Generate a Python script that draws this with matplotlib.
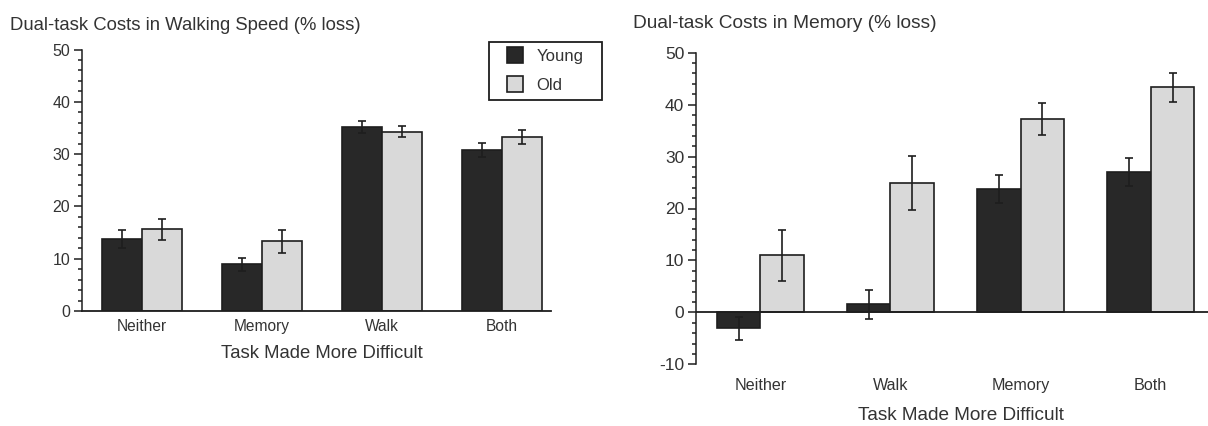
import matplotlib
matplotlib.use("Agg")
import matplotlib.pyplot as plt
import numpy as np
from matplotlib.ticker import MultipleLocator
from matplotlib.lines import Line2D
from matplotlib.patches import Rectangle

plt.rcParams['font.family'] = ['Liberation Sans', 'DejaVu Sans']
plt.rcParams['axes.unicode_minus'] = False

# ---- data ----
left_categories = ["Neither", "Memory", "Walk", "Both"]
left_young = [13.8, 8.9, 35.2, 30.8]
left_young_err = [1.75, 1.3, 1.2, 1.4]
left_old = [15.6, 13.3, 34.3, 33.3]
left_old_err = [2.0, 2.2, 1.0, 1.3]

right_categories = ["Neither", "Walk", "Memory", "Both"]
right_young = [-3.1, 1.6, 23.8, 27.0]
right_young_err = [2.3, 2.8, 2.7, 2.75]
right_old = [11.0, 24.9, 37.2, 43.3]
right_old_err = [4.9, 5.2, 3.1, 2.85]

series_labels = ["Young", "Old"]
left_title = "Dual-task Costs in Walking Speed (% loss)"
right_title = "Dual-task Costs in Memory (% loss)"
xlabel = "Task Made More Difficult"

# ---- style ----
W, H = 1208, 426
DARK = "#282828"
LIGHT = "#d9d9d9"
EDGE = "#1e1e1e"
TXT = "#333333"

fig = plt.figure(figsize=(W / 100, H / 100), dpi=100)

def px_axes(x0, x1, ytop, ybot):
    return fig.add_axes([x0 / W, 1 - ybot / H, (x1 - x0) / W, (ybot - ytop) / H])

def draw(ax, cats, young, yerr, old, oerr, width, tick_fs, cat_fs, cat_pad):
    x = np.arange(len(cats))
    ekw = dict(ecolor=EDGE, elinewidth=1.2, capsize=2.8, capthick=1.2)
    ax.bar(x - width / 2, young, width, yerr=yerr, color=DARK, edgecolor=EDGE,
           linewidth=1.2, error_kw=ekw, zorder=2)
    ax.bar(x + width / 2, old, width, yerr=oerr, color=LIGHT, edgecolor=EDGE,
           linewidth=1.2, error_kw=ekw, zorder=2)
    ax.set_xticks(x)
    ax.set_xticklabels(cats, fontsize=cat_fs, color=TXT)
    ax.tick_params(axis='x', length=0, pad=cat_pad)
    ax.yaxis.set_major_locator(MultipleLocator(10))
    ax.yaxis.set_minor_locator(MultipleLocator(2))
    ax.tick_params(axis='y', which='major', length=6, width=1.1, color=EDGE,
                   labelsize=tick_fs, labelcolor=TXT, pad=2.5)
    ax.tick_params(axis='y', which='minor', length=3, width=1.1, color=EDGE)
    for s in ['top', 'right']:
        ax.spines[s].set_visible(False)
    ax.spines['left'].set_linewidth(1.1)
    ax.spines['left'].set_color(EDGE)
    ax.patch.set_alpha(0)

# left panel
axL = px_axes(82, 551, 49.5, 311)
draw(axL, left_categories, left_young, left_young_err, left_old, left_old_err,
     0.333, 11.5, 11.2, 6)
axL.set_ylim(0, 50)
axL.set_xlim(-0.5, 3.408)
axL.spines['bottom'].set_linewidth(1.3)
axL.spines['bottom'].set_color(EDGE)
axL.set_xlabel(xlabel, fontsize=13.3, color=TXT)
axL.xaxis.set_label_coords(0.512, -0.161)
axL.xaxis.label.set_va('center')

# right panel
axR = px_axes(696, 1208, 52.7, 364.3)
draw(axR, right_categories, right_young, right_young_err, right_old, right_old_err,
     0.335, 12.5, 11.6, 10)
axR.set_ylim(-10, 50)
axR.set_xlim(-0.4946, 3.44)
axR.spines['bottom'].set_visible(False)
axR.axhline(0, color=EDGE, linewidth=1.3, zorder=3)
axR.set_xlabel(xlabel, fontsize=13.7, color=TXT)
axR.xaxis.set_label_coords(0.518, -0.163)
axR.xaxis.label.set_va('center')

# titles
fig.text(10 / W, 1 - 25 / H, left_title, fontsize=13.3, color=TXT, va='center', ha='left')
fig.text(633 / W, 1 - 23.5 / H, right_title, fontsize=13.8, color=TXT, va='center', ha='left')

# legend (entries) + separate frame box
handles = [Line2D([], [], linestyle='none', marker='s', markersize=11.5,
                  markerfacecolor=c, markeredgecolor=EDGE, markeredgewidth=1.2)
           for c in (DARK, LIGHT)]
leg = fig.legend(handles=handles, labels=series_labels, loc='upper left',
                 bbox_to_anchor=(489 / W, 1 - 41.7 / H), fontsize=12,
                 frameon=False,
                 handlelength=2.35, handleheight=0.9, handletextpad=0.1,
                 labelspacing=0.82, borderpad=0.4, borderaxespad=0)
for t in leg.get_texts():
    t.set_color(TXT)
fig.patches.append(Rectangle((489 / W, 1 - 100 / H), 113 / W, 58.3 / H,
                             transform=fig.transFigure, fill=False,
                             edgecolor=EDGE, linewidth=1.3, zorder=5))

fig.savefig("out.png", dpi=100, facecolor="white")
